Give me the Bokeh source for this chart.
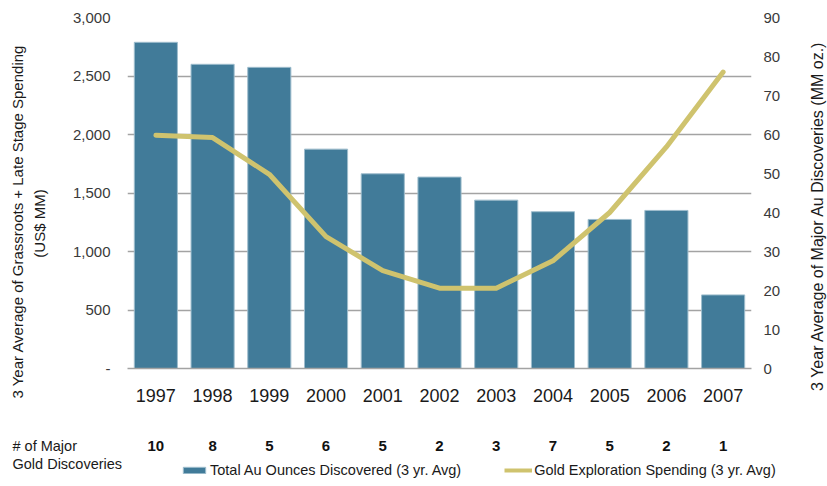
import math
from bokeh.plotting import figure
from bokeh.layouts import column, row
from bokeh.models import (Range1d, FactorRange, LinearAxis, FixedTicker,
                          NumeralTickFormatter, Label, Legend, LegendItem)
from bokeh.core.properties import value
from bokeh.embed import file_html
from bokeh.resources import INLINE

years = ["1997", "1998", "1999", "2000", "2001", "2002", "2003", "2004", "2005", "2006", "2007"]
spending = [2788, 2600, 2574, 1875, 1664, 1636, 1439, 1340, 1274, 1351, 629]
discoveries_oz = [59.8, 59.2, 49.8, 33.8, 25.1, 20.6, 20.6, 27.6, 40.0, 56.8, 76.0]
num_discoveries = [10, 8, 5, 6, 5, 2, 3, 7, 5, 2, 1]
left_ticks = [0, 500, 1000, 1500, 2000, 2500, 3000]
right_ticks = [0, 10, 20, 30, 40, 50, 60, 70, 80, 90]

FONT = "Liberation Sans"
BAR = "#417B99"
LINE = "#CFC36E"
GRID = "#a3a3a3"
TXT = "#1a1a1a"

W, H = 827, 486
LS, RS = 60, 27            # side strips holding the rotated axis titles
FL, FR, FT, FB = 127, 751, 17, 368   # plot frame in page pixels
H1 = 420
H2 = H - H1


def no_align(fig):
    if "frame_align" in fig.properties():
        fig.frame_align = False


def strip(width, height):
    s = figure(width=width, height=height, x_range=Range1d(0, 1), y_range=Range1d(0, 1),
               output_backend="svg", toolbar_location=None,
               x_axis_location=None, y_axis_location=None,
               min_border_left=0, min_border_right=0, min_border_top=0, min_border_bottom=0)
    s.grid.visible = False
    s.outline_line_color = None
    no_align(s)
    return s


# main chart
p = figure(width=W - LS - RS, height=H1, x_range=FactorRange(factors=years),
           y_range=Range1d(0, 3000), output_backend="svg", toolbar_location=None,
           min_border_left=FL - LS, min_border_right=W - RS - FR,
           min_border_top=FT, min_border_bottom=H1 - FB)
no_align(p)
p.outline_line_color = None
p.extra_y_ranges = {"right": Range1d(0, 90)}

bars = p.vbar(x=years, top=spending, width=0.76, fill_color=BAR, line_color="#9ebdcd", line_width=1)
line = p.line(x=years, y=discoveries_oz, y_range_name="right", line_color=LINE, line_width=5,
              line_cap="round", line_join="round")

p.xgrid.visible = False
p.ygrid.ticker = FixedTicker(ticks=left_ticks)
p.ygrid.grid_line_color = GRID
p.ygrid.grid_line_width = 1.3

ya = p.yaxis[0]
ya.ticker = FixedTicker(ticks=left_ticks)
ya.formatter = NumeralTickFormatter(format="0,0")
ya.major_label_overrides = {0: "-"}
ya.axis_line_color = None
ya.major_tick_line_color = None
ya.minor_tick_line_color = None
ya.major_tick_out = 0
ya.major_label_standoff = 17
ya.major_label_text_font = FONT
ya.major_label_text_font_size = "15px"
ya.major_label_text_color = "#3a3a3a"

ra = LinearAxis(y_range_name="right", ticker=FixedTicker(ticks=right_ticks))
ra.axis_line_color = None
ra.major_tick_line_color = None
ra.minor_tick_line_color = None
ra.major_tick_out = 0
ra.major_label_standoff = 12
ra.major_label_text_font = FONT
ra.major_label_text_font_size = "15px"
ra.major_label_text_color = "#3a3a3a"
p.add_layout(ra, "right")

xa = p.xaxis[0]
xa.axis_line_color = GRID
xa.axis_line_width = 1.3
xa.major_tick_line_color = None
xa.major_tick_out = 0
xa.major_label_standoff = 20
xa.major_label_text_font = FONT
xa.major_label_text_font_size = "18px"
xa.major_label_text_color = TXT

# left title strip
ls = strip(LS, H1)
ls.add_layout(Label(x=17, y=H1 - 221, x_units="screen", y_units="screen",
                    text="3 Year Average of Grassroots + Late Stage Spending",
                    angle=math.pi / 2, text_align="center", text_baseline="middle",
                    text_font=FONT, text_font_size="15px", text_color=TXT))
ls.add_layout(Label(x=39, y=H1 - 223, x_units="screen", y_units="screen",
                    text="(US$ MM)",
                    angle=math.pi / 2, text_align="center", text_baseline="middle",
                    text_font=FONT, text_font_size="15px", text_color=TXT))

# right title strip
rs = strip(RS, H1)
rs.add_layout(Label(x=817 - (W - RS), y=H1 - 213, x_units="screen", y_units="screen",
                    text="3 Year Average of Major Au Discoveries  (MM oz.)",
                    angle=math.pi / 2, text_align="center", text_baseline="middle",
                    text_font=FONT, text_font_size="16px", text_color=TXT))

# lower strip: discovery counts + legend, aligned to the same category slots
slot = (FR - FL) / len(years)
p2 = figure(width=W, height=H2, x_range=Range1d(-FL / slot, (W - FL) / slot),
            y_range=Range1d(0, H2), output_backend="svg", toolbar_location=None,
            x_axis_location=None, y_axis_location=None,
            min_border_left=0, min_border_right=0, min_border_top=0, min_border_bottom=0)
no_align(p2)
p2.grid.visible = False
p2.outline_line_color = None

xpos = [i + 0.5 for i in range(len(years))]
p2.text(x=xpos, y=[H - 445] * len(years), text=[str(n) for n in num_discoveries],
        text_align="center", text_baseline="middle", text_font=value(FONT),
        text_font_size="15px", text_font_style="bold", text_color="#111111")

p2.add_layout(Label(x=12, y=H - 445, x_units="screen", y_units="screen",
                    text="# of Major", text_align="left", text_baseline="middle",
                    text_font=FONT, text_font_size="14.5px", text_color=TXT))
p2.add_layout(Label(x=12, y=H - 463, x_units="screen", y_units="screen",
                    text="Gold Discoveries", text_align="left", text_baseline="middle",
                    text_font=FONT, text_font_size="14.5px", text_color=TXT))

# legend proxies (hidden, only provide swatches)
d_bar = p2.vbar(x=xpos[:1], top=[0], width=0.76, fill_color=BAR, line_color="#9ebdcd",
                line_width=1, visible=False)
d_line = p2.line(x=xpos[:1], y=[0], line_color=LINE, line_width=4, visible=False)
legend = Legend(items=[LegendItem(label="Total Au Ounces Discovered (3 yr. Avg)", renderers=[d_bar]),
                       LegendItem(label="Gold Exploration Spending (3 yr. Avg)", renderers=[d_line])],
                location=(180, 8), orientation="horizontal", padding=0, margin=0,
                spacing=43, glyph_width=28, glyph_height=8, label_height=16, label_standoff=2,
                border_line_color=None, background_fill_alpha=0,
                label_text_font=FONT, label_text_font_size="14.5px", label_text_color=TXT)
p2.add_layout(legend, "center")

layout = column(row(ls, p, rs, spacing=0), p2, spacing=0)
open("out.html", "w").write(file_html(layout, INLINE))
